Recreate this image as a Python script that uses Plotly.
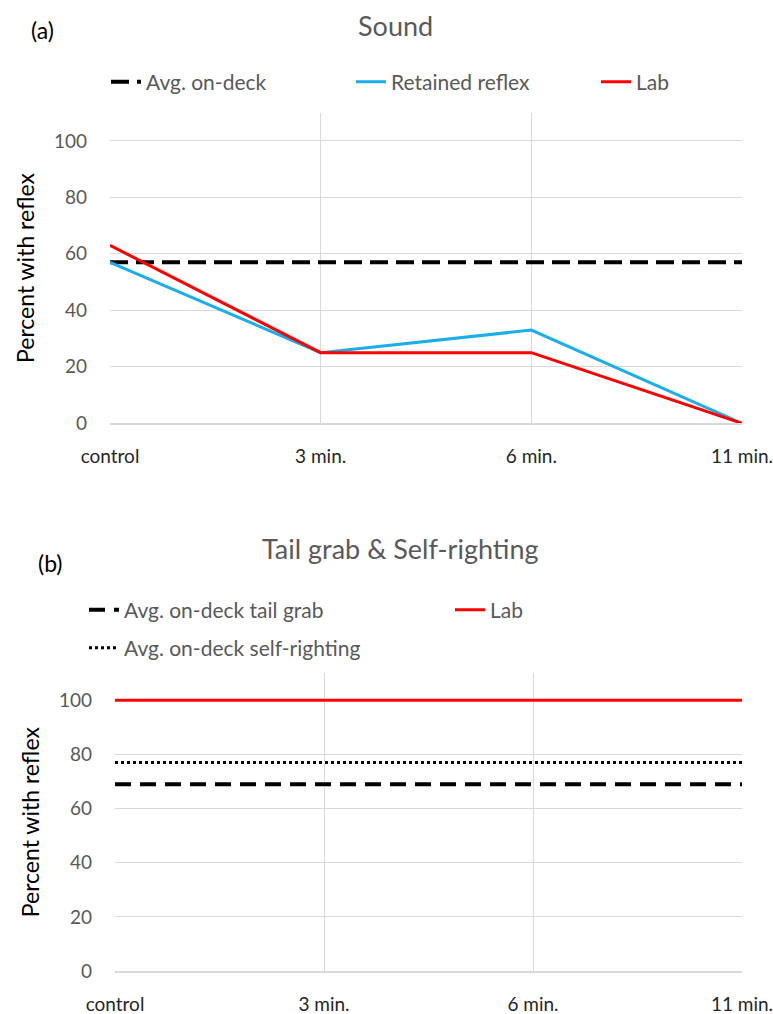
import plotly.graph_objects as go

# ---- data ----
categories = ["control", "3 min.", "6 min.", "11 min."]
y_ticks = [0, 20, 40, 60, 80, 100]

sound_avg_on_deck = [57, 57, 57, 57]
sound_retained_reflex = [57, 25, 33, 0]
sound_lab = [63, 25, 25, 0]

tail_avg_on_deck = [69, 69, 69, 69]
self_righting_avg_on_deck = [77, 77, 77, 77]
tail_lab = [100, 100, 100, 100]

W, H = 773, 1014
FONT = "Lato"
GRAY = "#595959"
GRID = "#d9d9d9"
BLUE = "#1AAEEA"
RED = "#FF0000"

fig = go.Figure()

# Panel (a)
fig.add_trace(go.Scatter(x=categories, y=sound_avg_on_deck, mode="lines", name="Avg. on-deck",
                         line=dict(color="black", width=4, dash="18px,8px"),
                         xaxis="x", yaxis="y", legend="legend"))
fig.add_trace(go.Scatter(x=categories, y=sound_retained_reflex, mode="lines", name="Retained reflex",
                         line=dict(color=BLUE, width=3),
                         xaxis="x", yaxis="y", legend="legend"))
fig.add_trace(go.Scatter(x=categories, y=sound_lab, mode="lines", name="Lab",
                         line=dict(color=RED, width=3),
                         xaxis="x", yaxis="y", legend="legend"))

# Panel (b)
fig.add_trace(go.Scatter(x=categories, y=tail_avg_on_deck, mode="lines", name="Avg. on-deck tail grab",
                         line=dict(color="black", width=4, dash="16px,9px"),
                         xaxis="x2", yaxis="y2", legend="legend2"))
fig.add_trace(go.Scatter(x=categories, y=tail_lab, mode="lines", name="Lab",
                         line=dict(color=RED, width=3),
                         xaxis="x2", yaxis="y2", legend="legend2"))
fig.add_trace(go.Scatter(x=categories, y=self_righting_avg_on_deck, mode="lines",
                         name="Avg. on-deck self-righting",
                         line=dict(color="black", width=3, dash="dot"),
                         xaxis="x2", yaxis="y2", legend="legend3"))

def px_x(p):
    return p / W

def px_y(p):
    return 1 - p / H

xcommon = dict(type="category", range=[0, 3], showgrid=True, gridcolor=GRID, gridwidth=1,
               showline=True, linecolor=GRID, linewidth=1.5, zeroline=False,
               tickfont=dict(family=FONT, size=19, color="#262626"),
               ticks="", ticklabelstandoff=15, fixedrange=True, automargin=False)
ycommon = dict(range=[0, 110], tickvals=y_ticks, showgrid=True, gridcolor=GRID, gridwidth=1,
               showline=False, zeroline=False,
               tickfont=dict(family=FONT, size=19, color=GRAY),
               ticks="", ticklabelstandoff=22,
               title=dict(text="Percent with reflex", font=dict(family=FONT, size=23, color="black"),
                          standoff=12),
               fixedrange=True, automargin=False)

LEGFONT = dict(family=FONT, size=21, color=GRAY)

fig.update_layout(
    width=W, height=H,
    margin=dict(l=0, r=0, t=0, b=0, autoexpand=False),
    paper_bgcolor="white", plot_bgcolor="white",
    font=dict(family=FONT, color=GRAY),
    xaxis=dict(domain=[px_x(110), px_x(742)], anchor="y", **xcommon),
    yaxis=dict(domain=[px_y(423.3), px_y(112.6)], anchor="x", **ycommon),
    xaxis2=dict(domain=[px_x(115), px_x(742)], anchor="y2", **xcommon),
    yaxis2=dict(domain=[px_y(971), px_y(673.3)], anchor="x2", **ycommon),
    legend=dict(orientation="h", x=px_x(106), xanchor="left", y=px_y(82), yanchor="middle",
                font=LEGFONT, entrywidth=200, entrywidthmode="pixels",
                bgcolor="rgba(0,0,0,0)"),
    legend2=dict(orientation="h", x=px_x(84), xanchor="left", y=px_y(610), yanchor="middle",
                 font=LEGFONT, entrywidth=321, entrywidthmode="pixels",
                 bgcolor="rgba(0,0,0,0)"),
    legend3=dict(orientation="h", x=px_x(84), xanchor="left", y=px_y(648), yanchor="middle",
                 font=LEGFONT,
                 bgcolor="rgba(0,0,0,0)"),
    showlegend=True,
    annotations=[
        dict(text="Sound", x=px_x(395), y=px_y(25), xref="paper", yref="paper",
             xanchor="center", yanchor="middle", showarrow=False,
             font=dict(family=FONT, size=27, color=GRAY)),
        dict(text="(a)", x=px_x(42), y=px_y(30), xref="paper", yref="paper",
             xanchor="center", yanchor="middle", showarrow=False,
             font=dict(family=FONT, size=23, color="black")),
        dict(text="Tail grab & Self-righting", x=px_x(400), y=px_y(548), xref="paper", yref="paper",
             xanchor="center", yanchor="middle", showarrow=False,
             font=dict(family=FONT, size=27, color=GRAY)),
        dict(text="(b)", x=px_x(50), y=px_y(563), xref="paper", yref="paper",
             xanchor="center", yanchor="middle", showarrow=False,
             font=dict(family=FONT, size=23, color="black")),
    ],
)

fig.write_html("out.html", config={"displayModeBar": False},
               post_script="document.body.style.margin='0';document.body.style.overflow='hidden';")
